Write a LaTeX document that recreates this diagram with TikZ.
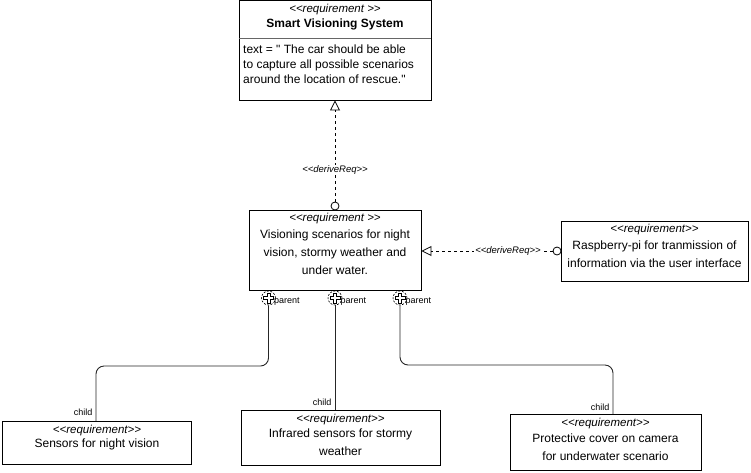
\documentclass[tikz,border=0pt]{standalone}
\usepackage{fontspec}
\setmainfont{Liberation Sans}[Ligatures=TeXOff]
\usetikzlibrary{arrows.meta}
\newcommand{\stL}{{<}{<}}
\newcommand{\stR}{{>}{>}}
\newcommand{\dq}{\symbol{34}}
\tikzset{
  reqbox/.style={draw=black, line width=0.9pt, inner sep=0pt},
  stereo/.style={font=\fontsize{11.5}{12}\selectfont\itshape, inner sep=0pt},
  body/.style={font=\fontsize{12}{18}\selectfont, align=center, inner sep=0pt},
  dep/.style={draw=black, line width=0.8pt, dash pattern=on 3pt off 3pt},
  lbl/.style={font=\fontsize{9.5}{10}\selectfont\itshape, fill=white, inner sep=1pt},
  small/.style={font=\fontsize{9}{10}\selectfont, inner sep=0.5pt},
  ball/.style={circle, draw=black, line width=0.8pt, fill=white, minimum size=8pt, inner sep=0pt},
  cont/.style={circle, draw=black, line width=0.6pt, dash pattern=on 2pt off 1.5pt, fill=white, minimum size=14pt, inner sep=0pt},
  parentline/.style={draw=black!85, line width=0.9pt, rounded corners=8pt},
  opentri/.style={-{Triangle[open, length=10pt, width=10pt, line width=0.8pt]}}
}
\begin{document}
\begin{tikzpicture}[x=1pt, y=-1pt]
\useasboundingbox (0,0) rectangle (751,472);
% boxes
\node[reqbox, minimum width=192pt, minimum height=100pt] (top) at (335,50) {};
\node[reqbox, minimum width=172pt, minimum height=80pt] (mid) at (335,250) {};
\node[reqbox, minimum width=187pt, minimum height=60pt] (rpi) at (654.5,251) {};
\node[reqbox, minimum width=189pt, minimum height=43pt] (bl) at (97,442.5) {};
\node[reqbox, minimum width=199pt, minimum height=55pt] (bm) at (340.5,437.5) {};
\node[reqbox, minimum width=191pt, minimum height=56pt] (br) at (605.5,442) {};
% top box text
\node[stereo] (topst) at (335,10) {\stL requirement \stR};
\node[font=\fontsize{12}{14}\selectfont\bfseries, inner sep=0pt] (topname) at (335,24.5) {Smart Visioning System};
\draw[black!60, line width=0.6pt] (top.west |- 0,38) -- (top.east |- 0,38);
\node[font=\fontsize{12}{15}\selectfont, align=left, anchor=west, inner sep=0pt] (toptext) at (243,64)
  {text = \dq{} The car should be able\\to capture all possible scenarios\\around the location of rescue.\dq};
% middle box text
\node[stereo] (midst) at (335,219) {\stL requirement \stR};
\node[body] (midtext) at (335,252) {Visioning scenarios for night\\vision, stormy weather and\\under water.};
% rpi text
\node[stereo] (rpist) at (654.5,230) {\stL requirement\stR};
\node[body] (rpitext) at (654.5,254) {Raspberry-pi for tranmission of\\information via the user interface};
% bottom left
\node[stereo] (blst) at (97,431) {\stL requirement\stR};
\node[body] (bltext) at (97,444.5) {Sensors for night vision};
% bottom middle
\node[stereo] (bmst) at (340.5,420) {\stL requirement\stR};
\node[body] (bmtext) at (340.5,442) {Infrared sensors for stormy\\weather};
% bottom right
\node[stereo] (brst) at (605.5,424) {\stL requirement\stR};
\node[body] (brtext) at (605.5,447.5) {Protective cover on camera\\for underwater scenario};

% deriveReq top
\node[ball] (b1) at (335,206) {};
\draw[dep, opentri] (b1.north) -- (top.south);
\node[lbl] (l1) at (335,170) {\stL deriveReq\stR};
% deriveReq right
\node[ball] (b2) at (557,251) {};
\draw[dep, opentri] (b2.west) -- (mid.east |- b2);
\node[lbl] (l2) at (508,251) {\stL deriveReq\stR};

% containment
\foreach \n/\xx in {c1/268.5, c2/335, c3/400}{
  \node[cont] (\n) at (\xx,298) {};
  \draw[black, line width=0.6pt] (\xx-1.5,293) -- (\xx+1.5,293) -- (\xx+1.5,296.5) -- (\xx+5,296.5) -- (\xx+5,299.5) -- (\xx+1.5,299.5) -- (\xx+1.5,303) -- (\xx-1.5,303) -- (\xx-1.5,299.5) -- (\xx-5,299.5) -- (\xx-5,296.5) -- (\xx-1.5,296.5) -- cycle;
  \node[small, anchor=west] at (\xx+5,302) {parent};
}
\coordinate (k1a) at (268.5,366);
\coordinate (k1b) at (96,366);
\draw[parentline] (c1.south) -- (k1a) -- (k1b) -- (96,421);
\draw[parentline] (c2.south) -- (335,410);
\coordinate (k3a) at (400,365);
\coordinate (k3b) at (613,365);
\draw[parentline] (c3.south) -- (k3a) -- (k3b) -- (613,414);
\node[small, anchor=east] (ch1) at (93,412) {child};
\node[small, anchor=east] (ch2) at (332,402) {child};
\node[small, anchor=east] (ch3) at (610,407) {child};
\end{tikzpicture}
\end{document}
